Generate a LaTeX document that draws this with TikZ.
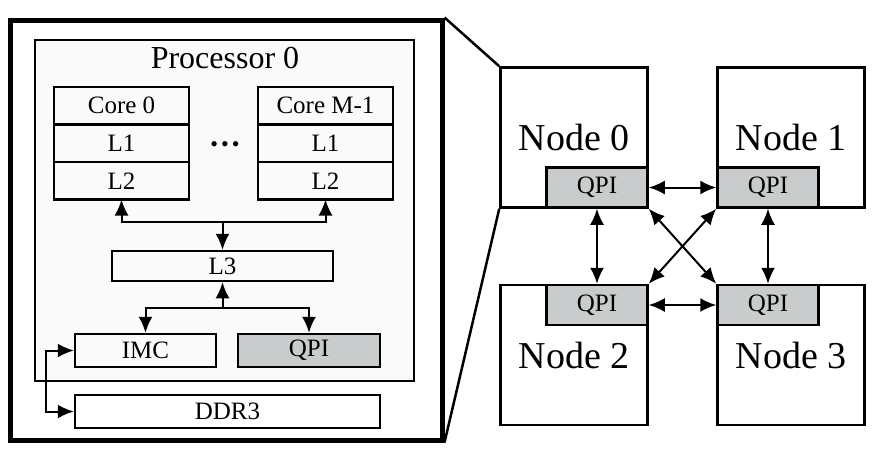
\documentclass[tikz,border=0pt]{standalone}
\usepackage{fontspec}
\setmainfont{Liberation Serif}
\usepackage{tikz}
\usetikzlibrary{arrows.meta, positioning}
\definecolor{qpigray}{RGB}{200,204,204}
\definecolor{procgray}{RGB}{250,250,250}

\begin{document}
\begin{tikzpicture}[
	x=1pt, y=-1pt,
	every node/.style={draw, rectangle, line width=2.5pt, inner sep=0pt, font=\fontsize{25}{30}\selectfont},
	box/.style={minimum height=33pt},
	row/.style={minimum width=135pt, minimum height=37.5pt, outer sep=0pt},
	qpi/.style={fill=qpigray, minimum width=101pt, minimum height=40pt},
	machine/.style={minimum width=147pt, minimum height=140pt, font=\fontsize{38}{44}\selectfont},
	feed/.style={draw, line width=2pt, -{Latex[length=16pt,width=14pt]}},
	link/.style={draw, line width=2pt, {Latex[length=16pt,width=14pt]}-{Latex[length=16pt,width=14pt]}},
	]
	\useasboundingbox (0,0) rectangle (882,458);
	
	% Zoomed frame and processor
	\node[line width=5pt, minimum width=432pt, minimum height=420pt] (frame) at (226,230) {};
	\node[fill=procgray, minimum width=379pt, minimum height=341pt] (proc) at (224.5,210.5) {};
	\node[draw=none, anchor=base, font=\fontsize{32}{38}\selectfont] (ptitle) at (225,68) {Processor 0};
	
	% Cores
	\node[row] (c0) at (121.5,105.75) {Core 0};
	\node[row, below=0pt of c0] (c0l1) {L1};
	\node[row, below=0pt of c0l1] (c0l2) {L2};
	
	\node[row] (cm) at (325.5,105.75) {Core M-1};
	\node[row, below=0pt of cm] (cml1) {L1};
	\node[row, below=0pt of cml1] (cml2) {L2};
	
	\node[draw=none, font=\fontsize{22}{24}\selectfont] (dots) at (225,147) {\textbullet\hspace{3pt}\textbullet\hspace{3pt}\textbullet};
	
	% Shared cache, controllers and memory
	\node[box, minimum width=221pt, minimum height=30pt] (L3) at (222.5,266) {L3};
	\node[box, minimum width=141pt] (imc) at (145.5,350.5) {IMC};
	\node[box, fill=qpigray, minimum width=142pt] (pqpi) at (309,350.5) {QPI};
	\node[box, minimum width=305pt] (ddr) at (227.5,411.5) {DDR3};
	
	\path (L3.north) ++(0,-28) coordinate (up);
	\draw[feed] (up) -- (L3.north);
	\draw[feed] (up) -| (c0l2.south);
	\draw[feed] (up) -| (cml2.south);
	
	\path (L3.south) ++(0,26) coordinate (down);
	\draw[feed] (down) -- (L3.south);
	\draw[feed] (down) -| (imc.north);
	\draw[feed] (down) -| (pqpi.north);
	
	\draw[link] (imc.west) -- ++(-28,0) |- (ddr.west);
	
	% Four nodes
	\node[machine] (n0) at (574,137.5) {Node 0};
	\node[machine] (n1) at (791,137.5) {Node 1};
	\node[machine] (n2) at (574,355) {Node 2};
	\node[machine] (n3) at (791,355) {Node 3};
	
	\node[qpi, anchor=south east] (q0) at (n0.south east) {QPI};
	\node[qpi, anchor=south west] (q1) at (n1.south west) {QPI};
	\node[qpi, anchor=north east] (q2) at (n2.north east) {QPI};
	\node[qpi, anchor=north west] (q3) at (n3.north west) {QPI};
	
	% QPI links
	\draw[link] (q0) -- (q1);
	\draw[link] (q2) -- (q3);
	\draw[link] (q0) -- (q2);
	\draw[link] (q1) -- (q3);
	\draw[link] (q0.south east) -- (q3.north west);
	\draw[link] (q1.south west) -- (q2.north east);
	
	% Zoom lines
	\draw[line width=2.5pt] (frame.north east) -- (n0.north west);
	\draw[line width=2.5pt] (frame.south east) -- (n0.south west);
	
\end{tikzpicture}
\end{document}
